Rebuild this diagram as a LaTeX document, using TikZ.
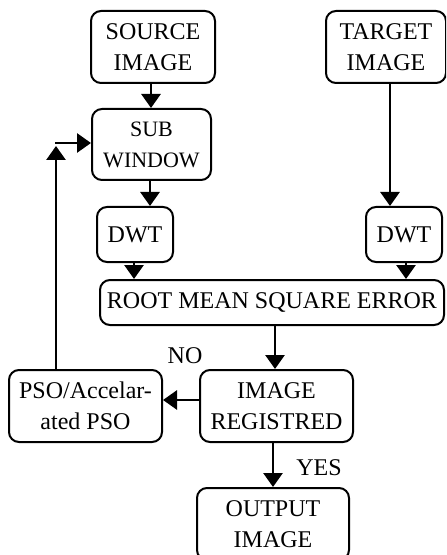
\documentclass[tikz,border=0pt]{standalone}
\usepackage{fontspec}
\setmainfont{Liberation Serif}
\usetikzlibrary{arrows.meta, positioning, calc}

\begin{document}
\begin{tikzpicture}[>={Triangle[width=9.5pt,length=7pt]}, x=0.5pt, y=-0.5pt,
  box/.style={draw, line width=1pt, rounded corners=5pt, inner sep=0pt,
              font=\fontsize{12}{15.5}\selectfont, align=center},
  flow/.style={->, line width=1.4pt},
  lbl/.style={font=\fontsize{12}{14}\selectfont}]
  \useasboundingbox (0,0) rectangle (446,555);
  \clip (0,0) rectangle (446,555);
  \node[box, minimum width=62pt, minimum height=36pt] (src) at (153, 47) {SOURCE\\IMAGE};
  \node[box, minimum width=60pt, minimum height=36pt] (tgt) at (386, 47) {TARGET\\IMAGE};
  \node[box, minimum width=59.5pt, minimum height=35.5pt,
        font=\fontsize{11}{15.5}\selectfont] (sub) at (151.5, 144.5) {SUB\\WINDOW};
  \node[box, minimum width=38pt, minimum height=27.5pt] (dwtl) at (135, 234.5) {DWT};
  \node[box, minimum width=38pt, minimum height=27.5pt] (dwtr) at (404, 234.5) {DWT};
  \node[box, minimum width=172pt, minimum height=22.5pt] (rmse) at (272, 302.5) {ROOT MEAN SQUARE ERROR};
  \node[box, minimum width=76.5pt, minimum height=36pt] (reg) at (276.5, 406) {IMAGE\\REGISTRED};
  \node[box, minimum width=76.5pt, minimum height=36pt] (pso) at (85.5, 406) {PSO/Accelar-\\ated PSO};
  \node[box, minimum width=76pt, minimum height=36pt] (out) at (273, 524) {OUTPUT\\IMAGE};
  \coordinate (fb) at (56, 143);
  % main flow
  \draw[flow] (src.south -| 151,0) -- (sub.north -| 151,0);
  \draw[flow] (sub.south -| 150,0) -- (dwtl.north -| 150,0);
  \draw[flow] (tgt.south -| 390,0) -- (dwtr.north -| 390,0);
  \draw[flow] (dwtl.south -| 134,0) -- (rmse.north -| 134,0);
  \draw[flow] (dwtr.south -| 406,0) -- (rmse.north -| 406,0);
  \draw[flow] (rmse.south -| 275,0) -- (reg.north -| 275,0);
  \draw[flow] (reg.west |- 0,400) -- (pso.east |- 0,400);
  \draw[flow] (reg.south -| 273,0) -- (out.north -| 273,0);
  % feedback loop
  \draw[flow] (pso.north -| fb) -- ($(fb)+(0,3)$);
  \draw[flow] ($(fb)+(-1,0)$) -- (sub.west |- fb);
  \node[lbl] (no) at (185, 356) {NO};
  \node[lbl] (yes) at (319, 468) {YES};
\end{tikzpicture}
\end{document}
